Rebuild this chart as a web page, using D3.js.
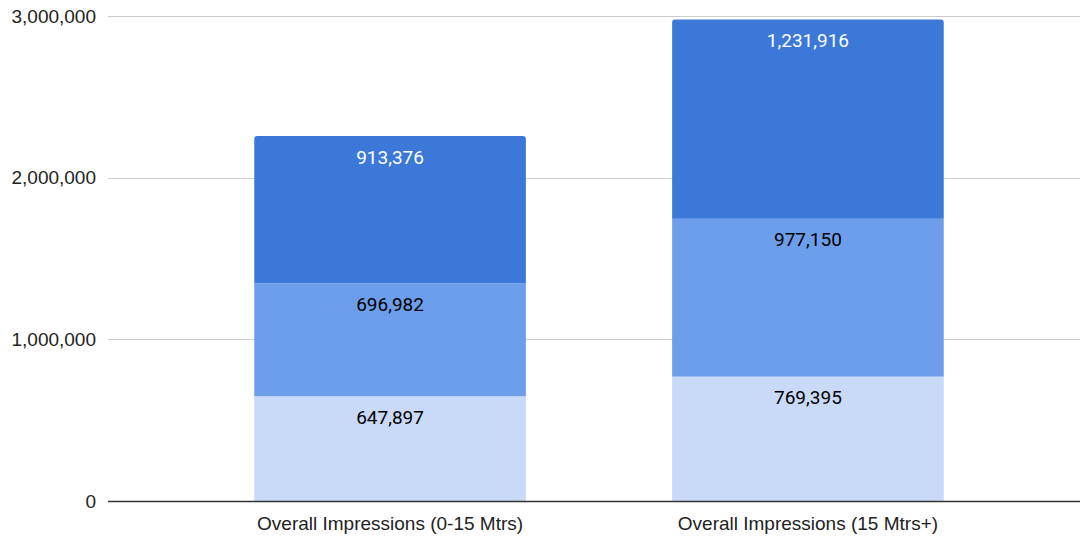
<!DOCTYPE html>
<html><head><meta charset="utf-8">
<script src="https://cdn.jsdelivr.net/npm/d3@7"></script>
<style>html,body{margin:0;padding:0;background:#fff;}svg{display:block;}</style>
</head><body><svg id="c" width="1080" height="536"></svg>
<script>
const categories = ["Overall Impressions (0-15 Mtrs)", "Overall Impressions (15 Mtrs+)"];
const seriesBottom = [647897, 769395];
const seriesMiddle = [696982, 977150];
const seriesTop = [913376, 1231916];
const yTicks = [0, 1000000, 2000000, 3000000];
const seriesColors = ["#c9daf8", "#6d9eeb", "#3c78d8"];
const labelColors = ["#000", "#000", "#fff"];

const svg = d3.select("#c");
const W = 1080, H = 536;
const m = {left: 108, right: 0, top: 16, bottom: 35};
const y = d3.scaleLinear().domain([0, 3000000]).range([H - m.bottom, m.top]);
const x = d3.scaleBand().domain(categories).range([108, 1090]).paddingInner(0.35).paddingOuter(0.35);

// gridlines
svg.append("g").selectAll("line").data(yTicks.filter(d => d > 0)).join("line")
  .attr("x1", m.left).attr("x2", W)
  .attr("y1", d => Math.round(y(d)) + 0.5).attr("y2", d => Math.round(y(d)) + 0.5)
  .attr("stroke", "#cccccc").attr("stroke-width", 1);

// y labels
svg.append("g").selectAll("text").data(yTicks).join("text")
  .attr("x", 96).attr("y", d => y(d)).attr("dy", "0.35em")
  .attr("text-anchor", "end")
  .attr("font-family", "Liberation Sans, Arial, sans-serif").attr("font-size", 19)
  .attr("fill", "#222").text(d => d3.format(",")(d));

const stackData = categories.map((c, i) => ({cat: c, vals: [seriesBottom[i], seriesMiddle[i], seriesTop[i]]}));
const g = svg.append("g");
stackData.forEach(d => {
  let acc = 0;
  d.vals.forEach((v, k) => {
    const y0 = y(acc), y1 = y(acc + v);
    const bx = x(d.cat), bw = x.bandwidth();
    const h = y0 - y1;
    if (k === 2) {
      const r = 3;
      g.append("path")
        .attr("d", `M${bx},${y0}V${y1 + r}Q${bx},${y1} ${bx + r},${y1}H${bx + bw - r}Q${bx + bw},${y1} ${bx + bw},${y1 + r}V${y0}Z`)
        .attr("fill", seriesColors[k]);
    } else {
      g.append("rect").attr("x", bx).attr("y", y1).attr("width", bw).attr("height", h).attr("fill", seriesColors[k]);
    }
    g.append("text").attr("x", bx + bw / 2).attr("y", y1 + 21).attr("dy", "0.35em")
      .attr("text-anchor", "middle")
      .attr("font-family", "Roboto, sans-serif").attr("font-size", 19)
      .attr("fill", labelColors[k]).text(d3.format(",")(v));
    acc += v;
  });
});

// baseline
svg.append("line").attr("x1", m.left).attr("x2", W)
  .attr("y1", Math.round(y(0)) + 0.5).attr("y2", Math.round(y(0)) + 0.5)
  .attr("stroke", "#333").attr("stroke-width", 1.5);

// category labels
svg.append("g").selectAll("text").data(categories).join("text")
  .attr("x", d => x(d) + x.bandwidth() / 2).attr("y", 523).attr("dy", "0.35em")
  .attr("text-anchor", "middle")
  .attr("font-family", "Liberation Sans, Arial, sans-serif").attr("font-size", 19)
  .attr("fill", "#222").text(d => d);
</script></body></html>
